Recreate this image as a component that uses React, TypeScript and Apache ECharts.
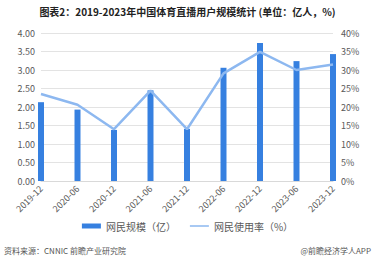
import React, { useEffect, useRef } from "react";
import * as echarts from "echarts";

const categories = ["2019-12", "2020-06", "2020-12", "2021-06", "2021-12", "2022-06", "2022-12", "2023-06", "2023-12"];
const users = [2.13, 1.93, 1.38, 2.45, 1.41, 3.06, 3.73, 3.24, 3.43];
const rate = [23.5, 20.6, 14.0, 24.4, 14.0, 29.1, 34.9, 30.0, 31.5];
const titleText = "图表2：2019-2023年中国体育直播用户规模统计 (单位：亿人，%)";
const sourceText = "资料来源：CNNIC 前瞻产业研究院";
const brandText = "@前瞻经济学人APP";
const barName = "网民规模（亿）";
const lineName = "网民使用率（%）";

const FONT = "'Noto Sans CJK SC', 'Noto Sans', sans-serif";

export default function App() {
  const ref = useRef<HTMLDivElement>(null);
  useEffect(() => {
    if (!ref.current) return;
    const chart = echarts.init(ref.current, undefined, { renderer: "svg" });
    chart.setOption({
      animation: false,
      backgroundColor: "#ffffff",
      textStyle: { fontFamily: FONT },
      title: {
        text: titleText,
        left: "center",
        top: 1,
        textStyle: { fontSize: 10, fontWeight: "bold", color: "#222", fontFamily: FONT },
      },
      legend: {
        bottom: 23,
        left: "center",
        itemGap: 14,
        itemWidth: 19,
        itemHeight: 5,
        textStyle: { fontSize: 10, color: "#595959", fontFamily: FONT },
        data: [
          { name: barName, icon: "rect" },
          { name: lineName, icon: "path://M0,0 L20,0 L20,1.6 L0,1.6 Z", itemStyle: { color: "#8DB8F0" } },
        ],
      },
      grid: { left: 41, right: 42, top: 33, bottom: 78 },
      xAxis: {
        type: "category",
        data: categories,
        boundaryGap: false,
        axisLine: { lineStyle: { color: "#d9d9d9" } },
        axisTick: { show: false },
        axisLabel: { rotate: 45, fontSize: 9, color: "#595959", margin: 6, interval: 0 },
      },
      yAxis: [
        {
          type: "value",
          min: 0,
          max: 4,
          interval: 0.5,
          axisLine: { show: false },
          axisTick: { show: false },
          axisLabel: { fontSize: 9, color: "#595959", margin: 6, formatter: (v: number) => v.toFixed(2) },
          splitLine: { lineStyle: { color: "#e3e3e3" } },
        },
        {
          type: "value",
          min: 0,
          max: 40,
          interval: 5,
          axisLine: { show: false },
          axisTick: { show: false },
          axisLabel: { fontSize: 9, color: "#595959", margin: 8, formatter: "{value}%" },
          splitLine: { show: false },
        },
      ],
      series: [
        {
          name: barName,
          type: "bar",
          data: users,
          barWidth: 6,
          itemStyle: { color: "#3680E0" },
        },
        {
          name: lineName,
          type: "line",
          yAxisIndex: 1,
          data: rate,
          symbol: "none",
          z: 5,
          lineStyle: { color: "#8DB8F0", width: 2.5 },
          itemStyle: { color: "#8DB8F0" },
        },
      ],
      graphic: [
        {
          type: "text",
          left: 4,
          top: 246,
          style: { text: sourceText, fontSize: 8, fill: "#555", fontFamily: FONT },
        },
        {
          type: "text",
          right: 4,
          top: 246,
          style: { text: brandText, fontSize: 8, fill: "#555", fontFamily: FONT },
        },
      ],
    });
    return () => chart.dispose();
  }, []);
  return <div ref={ref} style={{ position: "fixed", left: 0, top: 0, width: 375, height: 259 }} />;
}
